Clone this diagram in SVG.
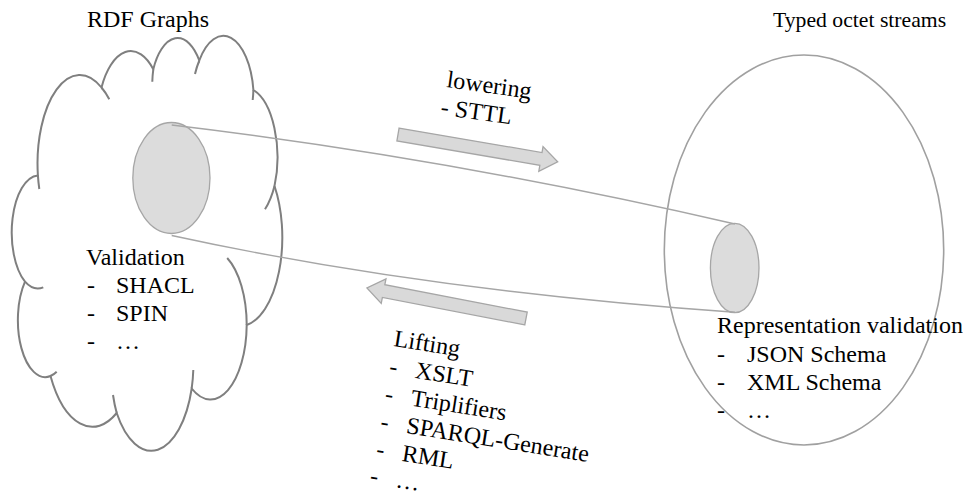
<svg xmlns="http://www.w3.org/2000/svg" width="963" height="496" viewBox="0 0 963 496" font-family="'Liberation Serif', 'DejaVu Serif', serif">
<style>
text{font-family:"Liberation Serif","DejaVu Serif",serif;font-size:24px;fill:#000}
.cloud{fill:#fff;stroke:#7f7f7f;stroke-width:2}
.inner{fill:none;stroke:#7f7f7f;stroke-width:2}
.disc{fill:#dcdcdc;stroke:#a6a6a6;stroke-width:1.3}
.conn{fill:none;stroke:#a6a6a6;stroke-width:1.4}
.arrow{fill:#d9d9d9;stroke:#a6a6a6;stroke-width:1.3}
</style>
<defs>
<polygon id="blockArrow" points="0,-6.5 145,-6.5 145,-12.5 162,0 145,12.5 145,6.5 0,6.5"/>
</defs>
<rect width="963" height="496" fill="#fff"/>
<g id="rdf-graphs">
<path class="cloud" d="M37.9 175.4 A42.3 88.5 0 0 1 101.5 87.5 A33.4 70 0 0 1 153.3 69.3 A27.3 57.2 0 0 1 199.3 60.5 A30.4 63.5 0 0 1 253.4 90 A33.4 70 0 0 1 274.5 186 A42.4 88.8 0 0 1 246.7 325 A36.2 75.8 0 0 1 191.7 388.5 A42.3 88.7 0 0 1 116.7 413 A48.3 101.5 0 0 1 50.5 376 A27.3 57 0 0 1 25 281.7 A27.2 57.2 0 0 1 37.9 175.4 Z"/>
<path class="inner" d="M39.3 189 A42.3 88.5 0 0 1 37.9 175.4 M101.5 87.5 A42.3 88.5 0 0 1 109.3 99.3 M152.3 81.7 A27.3 57.2 0 0 1 153.3 69.3 M195 74 A30.4 63.5 0 0 1 199.3 60.5 M253.4 90 A30.4 63.5 0 0 1 252.7 100 M274.5 186 A33.4 70 0 0 1 265 209.3 M227.2 258 A36.2 75.8 0 0 1 246.7 325 M193.3 370 A42.3 88.7 0 0 1 191.7 388.5 M116.7 413 A42.3 88.7 0 0 1 113 395 M56.7 371.7 A27.3 57 0 0 1 50.5 376 M43.3 287.3 A27.2 57.2 0 0 1 25 281.7"/>
<text x="87" y="27">RDF Graphs</text>
<text x="86" y="265">Validation</text>
<text x="87" y="293">-</text><text x="116" y="293">SHACL</text>
<text x="87" y="321">-</text><text x="116" y="321">SPIN</text>
<text x="87" y="349">-</text><text x="116" y="349">…</text>
</g>
<g id="octet-streams">
<ellipse cx="804" cy="250" rx="139.7" ry="195" fill="none" stroke="#a0a0a0" stroke-width="1.6"/>
<text x="773" y="27" style="font-size:21.7px">Typed octet streams</text>
<text x="717" y="333">Representation validation</text>
<text x="717" y="362">-</text><text x="747" y="362">JSON Schema</text>
<text x="717" y="390">-</text><text x="747" y="390">XML Schema</text>
<text x="717" y="418">-</text><text x="747" y="418">…</text>
</g>
<g id="rdf-subset">
<ellipse class="disc" cx="171.4" cy="178" rx="38.6" ry="55.5"/>
</g>
<g id="octet-subset">
<ellipse class="disc" cx="734.7" cy="268" rx="24.3" ry="44.7"/>
</g>
<g id="connectors">
<path class="conn" d="M171.7 125 Q449 158 735 224"/>
<path class="conn" d="M171.7 235.5 Q424 290.5 735 312.3"/>
</g>
<g id="lowering">
<use href="#blockArrow" class="arrow" transform="translate(398,134.5) rotate(9.7)"/>
<g transform="translate(446,87) rotate(8)">
<text x="0" y="0">lowering</text>
<text x="-2" y="28">- STTL</text>
</g>
</g>
<g id="lifting">
<use href="#blockArrow" class="arrow" transform="translate(526,318.5) rotate(190.9)"/>
<g transform="translate(393,346) rotate(9)">
<text x="0" y="0">Lifting</text>
<text x="0" y="28">-</text><text x="26" y="28">XSLT</text>
<text x="0" y="56">-</text><text x="26" y="56">Triplifiers</text>
<text x="0" y="84">-</text><text x="26" y="84">SPARQL-Generate</text>
<text x="0" y="112">-</text><text x="26" y="112">RML</text>
<text x="-2" y="139">-</text><text x="24" y="139">…</text>
</g>
</g>
</svg>
